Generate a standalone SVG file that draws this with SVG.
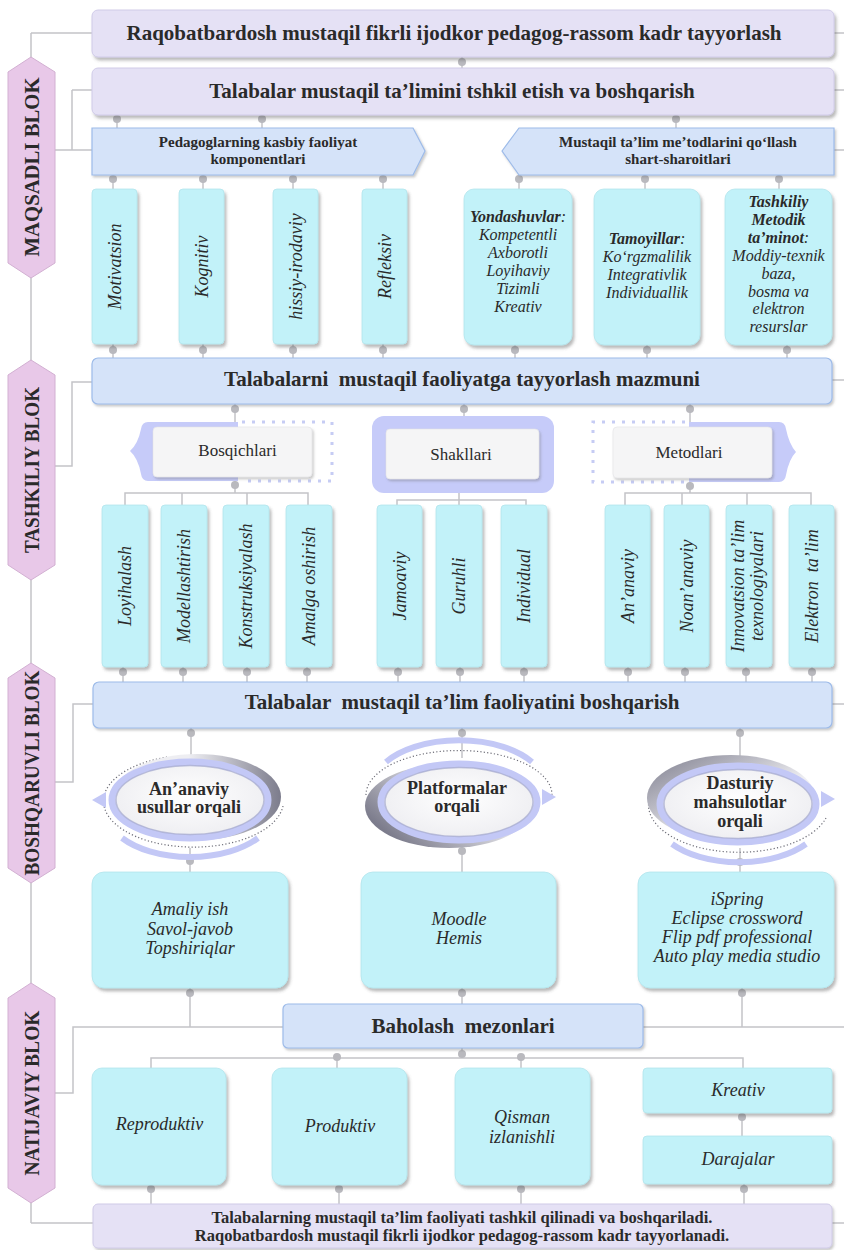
<svg xmlns="http://www.w3.org/2000/svg" width="844" height="1250" viewBox="0 0 844 1250">
<defs>
<style>
.ln{stroke:#c4c4c8;stroke-width:1.5;fill:none}
.dot{fill:#b9b9be}
.lav{fill:#e5e1f5;stroke:#d0cbe8;stroke-width:1}
.blu{fill:#d5e3f9;stroke:#9dbbe9;stroke-width:1.2}
.cy{fill:#c2f2f9;stroke:#b2e4ec;stroke-width:0.8}
.pk{fill:#e8c8e8;stroke:#d2b0d2;stroke-width:1}
.bk{fill:#c6cbf9}
.card{fill:#f5f5f6;stroke:#e2e2e6;stroke-width:0.6}
.dt{fill:none;stroke:#c6ccf4;stroke-width:3;stroke-dasharray:3 7}
.t{font-family:"Liberation Serif","Times New Roman",serif;fill:#2a2a2a}
.b{font-weight:bold}
.h{font-size:21px;font-weight:bold;text-anchor:middle}
.ar{font-size:15px;font-weight:bold;text-anchor:middle}
.v{font-size:18px;font-style:italic;text-anchor:middle}
.s{font-size:16px;font-style:italic;text-anchor:middle}
.m{font-size:18px;font-style:italic;text-anchor:middle}
.e{font-size:18px;font-weight:bold;text-anchor:middle}
.bl{font-size:22px;font-weight:bold;text-anchor:middle}
.ring{fill:url(#wh);stroke:#c3c8f6;stroke-width:7}
.inr{fill:none;stroke:#a4a8cc;stroke-width:1.5;opacity:0.7}
.dots{fill:none;stroke:#6e6e78;stroke-width:1.2;stroke-dasharray:1.2 2.2}
.band{fill:none;stroke:#c3c8f6;stroke-width:6}
</style>
<filter id="sh" x="-10%" y="-10%" width="125%" height="140%">
<feDropShadow dx="2" dy="3" stdDeviation="1.5" flood-color="#555" flood-opacity="0.4"/>
</filter>
<filter id="sh2" x="-10%" y="-10%" width="125%" height="140%">
<feDropShadow dx="1.5" dy="2" stdDeviation="1" flood-color="#666" flood-opacity="0.35"/>
</filter>
<radialGradient id="wh" cx="0.5" cy="0.45" r="0.6">
<stop offset="0" stop-color="#ffffff"/><stop offset="1" stop-color="#ececf0"/>
</radialGradient>
<linearGradient id="crR" x1="0" y1="0" x2="1" y2="0">
<stop offset="0.45" stop-color="#eeeef2"/><stop offset="1" stop-color="#7c7c8c"/>
</linearGradient>
<linearGradient id="crL" x1="1" y1="0" x2="0" y2="0.6">
<stop offset="0.4" stop-color="#eeeef2"/><stop offset="1" stop-color="#7c7c8c"/>
</linearGradient>
<linearGradient id="crTL" x1="1" y1="1" x2="0" y2="0">
<stop offset="0.4" stop-color="#eeeef2"/><stop offset="1" stop-color="#7c7c8c"/>
</linearGradient>
</defs>
<rect width="844" height="1250" fill="#ffffff"/>

<g id="connectors">
<path class="ln" d="M31 33V1223M31 33H92M31 1223H93"/>
<path class="ln" d="M55 150H92M72 90V150M72 90H92"/>
<path class="ln" d="M55 466H72V382H92"/>
<path class="ln" d="M55 782H73V704H93"/>
<path class="ln" d="M55 1093H73V1027H844"/>
<path class="ln" d="M834 33H844M834 90H844M834 150H844M832 380H844M832 704H844M832 1223H844"/>
<path class="ln" d="M462 57V68M117 115V128M262 115V128M676 115V128"/>
<path class="ln" d="M113 175V189M203 175V189M293 175V189M383 175V189M519 175V189M645 175V189M779 175V189"/>
<path class="ln" d="M113 344V358M203 344V358M293 344V358M383 344V358M515 344V358M647 344V358M787 344V358"/>
<path class="ln" d="M235 404V422M464 404V416M690 404V422"/>
<path class="ln" d="M235 480V493M125 505V493H308V505M182 493V505M247 493V505"/>
<path class="ln" d="M459 493V505M397 505V500H526V505"/>
<path class="ln" d="M690 482V493M625 505V493H811V505M682 493V505M747 493V505"/>
<path class="ln" d="M123 667V682M183 667V682M247 667V682M307 667V682M398 667V682M460 667V682M524 667V682M628 667V682M685 667V682M746 667V682M812 667V682"/>
<path class="ln" d="M191 728V755M462 728V758M740 728V756"/>
<path class="ln" d="M190 848V872M462 846V872M740 848V872"/>
<path class="ln" d="M190 988V1027M462 988V1004M742 988V1027"/>
<path class="ln" d="M462 1048V1058M151 1068V1058H743V1068M337 1058V1068M521 1058V1068"/>
<path class="ln" d="M742 1113V1136M151 1185V1204M339 1185V1204M521 1185V1204M744 1184V1204"/>
<g class="dot">
<circle cx="462" cy="62" r="4"/>
<circle cx="117" cy="119" r="4"/><circle cx="262" cy="119" r="4"/><circle cx="676" cy="119" r="4"/>
<circle cx="113" cy="179" r="4"/><circle cx="203" cy="179" r="4"/><circle cx="293" cy="179" r="4"/><circle cx="383" cy="179" r="4"/>
<circle cx="519" cy="179" r="4"/><circle cx="645" cy="179" r="4"/><circle cx="779" cy="179" r="4"/>
<circle cx="113" cy="350" r="4"/><circle cx="203" cy="350" r="4"/><circle cx="293" cy="350" r="4"/><circle cx="383" cy="350" r="4"/>
<circle cx="515" cy="350" r="4"/><circle cx="647" cy="350" r="4"/><circle cx="787" cy="350" r="4"/>
<circle cx="235" cy="409" r="4"/><circle cx="464" cy="409" r="4"/><circle cx="690" cy="409" r="4"/>
<circle cx="235" cy="485" r="4"/><circle cx="690" cy="486" r="4"/>
<circle cx="123" cy="672" r="4"/><circle cx="183" cy="672" r="4"/><circle cx="247" cy="672" r="4"/><circle cx="307" cy="672" r="4"/>
<circle cx="398" cy="672" r="4"/><circle cx="460" cy="672" r="4"/><circle cx="524" cy="672" r="4"/><circle cx="628" cy="672" r="4"/>
<circle cx="685" cy="672" r="4"/><circle cx="746" cy="672" r="4"/><circle cx="812" cy="672" r="4"/>
<circle cx="191" cy="733" r="4"/><circle cx="462" cy="733" r="4"/><circle cx="740" cy="733" r="4"/>
<circle cx="190" cy="861" r="4"/><circle cx="462" cy="851" r="4"/><circle cx="740" cy="862" r="4"/>
<circle cx="190" cy="993" r="4"/><circle cx="462" cy="993" r="4"/><circle cx="742" cy="993" r="4"/>
<circle cx="462" cy="1054" r="4"/><circle cx="337" cy="1057" r="4"/><circle cx="521" cy="1057" r="4"/>
<circle cx="742" cy="1117" r="4"/>
<circle cx="151" cy="1189" r="4"/><circle cx="339" cy="1189" r="4"/><circle cx="521" cy="1189" r="4"/><circle cx="744" cy="1189" r="4"/>
</g>
</g>

<g id="blk-maqsadli">
<polygon class="pk" points="31,57 55,72 55,263 31,278 8,263 8,72"/>
<text class="t bl" x="31" y="175" transform="rotate(-90 31 167)" textLength="179" lengthAdjust="spacingAndGlyphs">MAQSADLI BLOK</text>
</g>
<g id="blk-tashkiliy">
<polygon class="pk" points="31,360 55,375 55,565 31,580 8,565 8,375"/>
<text class="t bl" x="31" y="478" transform="rotate(-90 31 470)" textLength="166" lengthAdjust="spacingAndGlyphs">TASHKILIY BLOK</text>
</g>
<g id="blk-boshqaruvli">
<polygon class="pk" points="31,663 55,678 55,868 31,883 8,868 8,678"/>
<text class="t bl" x="31" y="781" transform="rotate(-90 31 773)" textLength="205" lengthAdjust="spacingAndGlyphs">BOSHQARUVLI BLOK</text>
</g>
<g id="blk-natijaviy">
<polygon class="pk" points="31,983 55,998 55,1188 31,1203 8,1188 8,998"/>
<text class="t bl" x="31" y="1101" transform="rotate(-90 31 1093)" textLength="165" lengthAdjust="spacingAndGlyphs">NATIJAVIY BLOK</text>
</g>

<g id="n-goal">
<rect class="lav" x="92" y="10" width="742" height="47" rx="6" filter="url(#sh)"/>
<text class="t h" x="454" y="40">Raqobatbardosh mustaqil fikrli ijodkor pedagog-rassom kadr tayyorlash</text>
</g>
<g id="n-org">
<rect class="lav" x="92" y="68" width="742" height="47" rx="6" filter="url(#sh)"/>
<text class="t h" x="452" y="98">Talabalar mustaqil ta’limini tshkil etish va boshqarish</text>
</g>
<g id="n-ped">
<path class="blu" d="M92 128H413L425 151L413 175H92Z" filter="url(#sh2)"/>
<text class="t ar" x="258" y="147">Pedagoglarning kasbiy faoliyat</text>
<text class="t ar" x="258" y="164">komponentlari</text>
</g>
<g id="n-cond">
<path class="blu" d="M502 151L519 128H834V175H519Z" filter="url(#sh2)"/>
<text class="t ar" x="678" y="147">Mustaqil ta’lim me’todlarini qo‘llash</text>
<text class="t ar" x="678" y="164">shart-sharoitlari</text>
</g>

<g id="n-motiv"><rect class="cy" x="92" y="189" width="45" height="155" rx="4" filter="url(#sh)"/>
<text class="t v" x="114.5" y="273" transform="rotate(-90 114.5 266.5)">Motivatsion</text></g>
<g id="n-kogn"><rect class="cy" x="179" y="189" width="45" height="155" rx="4" filter="url(#sh)"/>
<text class="t v" x="201.5" y="273" transform="rotate(-90 201.5 266.5)">Kognitiv</text></g>
<g id="n-hiss"><rect class="cy" x="273" y="189" width="45" height="155" rx="4" filter="url(#sh)"/>
<text class="t v" x="295.5" y="273" transform="rotate(-90 295.5 266.5)">hissiy-irodaviy</text></g>
<g id="n-refl"><rect class="cy" x="362" y="189" width="45" height="155" rx="4" filter="url(#sh)"/>
<text class="t v" x="384.5" y="273" transform="rotate(-90 384.5 266.5)">Refleksiv</text></g>

<g id="n-yond"><rect class="cy" x="464" y="189" width="108" height="156" rx="10" filter="url(#sh)"/>
<text class="t s" x="518" y="222"><tspan font-weight="bold">Yondashuvlar</tspan>:</text>
<text class="t s" x="518" y="240">Kompetentli</text>
<text class="t s" x="518" y="258">Axborotli</text>
<text class="t s" x="518" y="276">Loyihaviy</text>
<text class="t s" x="518" y="294">Tizimli</text>
<text class="t s" x="518" y="312">Kreativ</text></g>
<g id="n-tamo"><rect class="cy" x="594" y="189" width="106" height="156" rx="10" filter="url(#sh)"/>
<text class="t s" x="647" y="244"><tspan font-weight="bold">Tamoyillar</tspan>:</text>
<text class="t s" x="647" y="262">Ko‘rgzmalilik</text>
<text class="t s" x="647" y="280">Integrativlik</text>
<text class="t s" x="647" y="298">Individuallik</text></g>
<g id="n-tash"><rect class="cy" x="725" y="189" width="107" height="156" rx="10" filter="url(#sh)"/>
<text class="t s b" x="778.5" y="207">Tashkiliy</text>
<text class="t s b" x="778.5" y="225">Metodik</text>
<text class="t s" x="778.5" y="243"><tspan font-weight="bold">ta’minot</tspan>:</text>
<text class="t s" x="778.5" y="261">Moddiy-texnik</text>
<text class="t s" x="778.5" y="279">baza,</text>
<text class="t s" x="778.5" y="297">bosma va</text>
<text class="t s" x="778.5" y="314">elektron</text>
<text class="t s" x="778.5" y="332">resurslar</text></g>

<g id="n-mazmun">
<rect class="blu" x="92" y="358" width="740" height="46" rx="6" filter="url(#sh2)"/>
<text class="t h" x="462" y="386" xml:space="preserve">Talabalarni  mustaqil faoliyatga tayyorlash mazmuni</text>
</g>

<g id="n-bosq">
<path class="bk" d="M148 422H238V481H148Q142 481 141 474Q138 458 130 451Q138 444 141 429Q142 422 148 422Z"/>
<path class="dt" d="M242 422H332V481H242"/>
<rect class="card" x="153" y="427" width="159" height="50" rx="4" filter="url(#sh2)"/>
<text class="t" x="237.5" y="456" font-size="17" text-anchor="middle">Bosqichlari</text>
</g>
<g id="n-shakl">
<rect class="bk" x="372" y="416" width="182" height="77" rx="12"/>
<rect class="card" x="386" y="429" width="153" height="50" rx="4" filter="url(#sh2)"/>
<text class="t" x="461" y="460" font-size="17" text-anchor="middle">Shakllari</text>
</g>
<g id="n-metod">
<path class="bk" d="M689 422H779Q785 422 786 429Q789 444 796 452Q789 459 786 475Q785 482 779 482H689Z"/>
<path class="dt" d="M685 422H593V482H685"/>
<rect class="card" x="613" y="427" width="159" height="51" rx="4" filter="url(#sh2)"/>
<text class="t" x="689" y="458" font-size="17" text-anchor="middle">Metodlari</text>
</g>

<g id="n-loyi"><rect class="cy" x="102" y="505" width="46" height="162" rx="4" filter="url(#sh)"/>
<text class="t v" x="125" y="592" transform="rotate(-90 125 586)">Loyihalash</text></g>
<g id="n-mode"><rect class="cy" x="161" y="505" width="46" height="162" rx="4" filter="url(#sh)"/>
<text class="t v" x="184" y="592" transform="rotate(-90 184 586)">Modellashtirish</text></g>
<g id="n-kons"><rect class="cy" x="223" y="505" width="46" height="162" rx="4" filter="url(#sh)"/>
<text class="t v" x="246" y="592" transform="rotate(-90 246 586)">Konstruksiyalash</text></g>
<g id="n-amal"><rect class="cy" x="286" y="505" width="46" height="162" rx="4" filter="url(#sh)"/>
<text class="t v" x="309" y="592" transform="rotate(-90 309 586)">Amalga oshirish</text></g>
<g id="n-jamo"><rect class="cy" x="377" y="505" width="45" height="162" rx="4" filter="url(#sh)"/>
<text class="t v" x="399.5" y="592" transform="rotate(-90 399.5 586)">Jamoaviy</text></g>
<g id="n-guru"><rect class="cy" x="436" y="505" width="46" height="162" rx="4" filter="url(#sh)"/>
<text class="t v" x="459" y="592" transform="rotate(-90 459 586)">Guruhli</text></g>
<g id="n-indi"><rect class="cy" x="501" y="505" width="46" height="162" rx="4" filter="url(#sh)"/>
<text class="t v" x="524" y="592" transform="rotate(-90 524 586)">Individual</text></g>
<g id="n-anan"><rect class="cy" x="605" y="505" width="45" height="162" rx="4" filter="url(#sh)"/>
<text class="t v" x="627.5" y="592" transform="rotate(-90 627.5 586)">An’anaviy</text></g>
<g id="n-noan"><rect class="cy" x="664" y="505" width="45" height="162" rx="4" filter="url(#sh)"/>
<text class="t v" x="686.5" y="592" transform="rotate(-90 686.5 586)">Noan’anaviy</text></g>
<g id="n-inno"><rect class="cy" x="726" y="505" width="46" height="162" rx="4" filter="url(#sh)"/>
<text class="t v" x="749" y="581" transform="rotate(-90 749 586)">Innovatsion ta’lim</text>
<text class="t v" x="749" y="600" transform="rotate(-90 749 586)">texnologiyalari</text></g>
<g id="n-elek"><rect class="cy" x="789" y="505" width="45" height="162" rx="4" filter="url(#sh)"/>
<text class="t v" x="811.5" y="592" transform="rotate(-90 811.5 586)" xml:space="preserve">Elektron  ta’lim</text></g>

<g id="n-boshq">
<rect class="blu" x="93" y="682" width="739" height="46" rx="6" filter="url(#sh2)"/>
<text class="t h" x="462" y="709" xml:space="preserve">Talabalar  mustaqil ta’lim faoliyatini boshqarish</text>
</g>

<g id="n-usul">
<path class="dots" d="M283 806A90 46 0 1 1 168 757"/>
<path class="band" d="M122 838A84 46 0 0 0 258 838"/>
<polygon points="92,800 106,792 106,808" fill="#c3c8f6"/>
<ellipse cx="197" cy="797" rx="84" ry="43" fill="url(#crR)"/>
<ellipse class="ring" cx="190" cy="800" rx="78" ry="38"/>
<ellipse class="inr" cx="190" cy="800" rx="74" ry="34.5"/>
<text class="t e" x="189" y="795">An’anaviy</text>
<text class="t e" x="189" y="813">usullar orqali</text>
</g>
<g id="n-platf">
<path class="band" d="M386 762A86 46 0 0 1 532 762"/>
<path class="dots" d="M366 795A92 44 0 0 1 552 795"/>
<polygon points="556,797 542,789 542,805" fill="#c3c8f6"/>
<ellipse cx="449" cy="806" rx="84" ry="42" fill="url(#crL)"/>
<ellipse class="ring" cx="459" cy="802" rx="78" ry="38"/>
<ellipse class="inr" cx="459" cy="802" rx="74" ry="34.5"/>
<text class="t e" x="457" y="794">Platformalar</text>
<text class="t e" x="457" y="812">orqali</text>
</g>
<g id="n-dast">
<path class="dots" d="M826 818A90 47 0 0 1 652 792"/>
<path class="band" d="M672 844A84 46 0 0 0 806 844"/>
<polygon points="835,799 821,791 821,807" fill="#c3c8f6"/>
<ellipse cx="731" cy="798" rx="84" ry="43" fill="url(#crTL)"/>
<ellipse class="ring" cx="738" cy="804" rx="78" ry="38"/>
<ellipse class="inr" cx="738" cy="804" rx="74" ry="34.5"/>
<text class="t e" x="740" y="789">Dasturiy</text>
<text class="t e" x="740" y="808">mahsulotlar</text>
<text class="t e" x="740" y="827">orqali</text>
</g>

<g id="n-amaliy"><rect class="cy" x="92" y="872" width="196" height="116" rx="12" filter="url(#sh)"/>
<text class="t m" x="190" y="915">Amaliy ish</text>
<text class="t m" x="190" y="935">Savol-javob</text>
<text class="t m" x="190" y="954">Topshiriqlar</text></g>
<g id="n-moodle"><rect class="cy" x="361" y="872" width="195" height="116" rx="12" filter="url(#sh)"/>
<text class="t m" x="459" y="925">Moodle</text>
<text class="t m" x="459" y="944">Hemis</text></g>
<g id="n-ispring"><rect class="cy" x="638" y="872" width="196" height="116" rx="12" filter="url(#sh)"/>
<text class="t m" x="737" y="905">iSpring</text>
<text class="t m" x="737" y="924">Eclipse crossword</text>
<text class="t m" x="737" y="943">Flip pdf professional</text>
<text class="t m" x="737" y="962">Auto play media studio</text></g>

<g id="n-bahol">
<rect class="blu" x="283" y="1004" width="360" height="44" rx="5" filter="url(#sh2)"/>
<text class="t h" x="463" y="1033" xml:space="preserve">Baholash  mezonlari</text>
</g>

<g id="n-repro"><rect class="cy" x="92" y="1068" width="134" height="117" rx="10" filter="url(#sh)"/>
<text class="t m" x="159.5" y="1130">Reproduktiv</text></g>
<g id="n-prod"><rect class="cy" x="272" y="1068" width="135" height="117" rx="10" filter="url(#sh)"/>
<text class="t m" x="340" y="1132">Produktiv</text></g>
<g id="n-qism"><rect class="cy" x="455" y="1068" width="135" height="117" rx="10" filter="url(#sh)"/>
<text class="t m" x="522" y="1123">Qisman</text>
<text class="t m" x="522" y="1143">izlanishli</text></g>
<g id="n-krea"><rect class="cy" x="643" y="1068" width="189" height="45" rx="4" filter="url(#sh)"/>
<text class="t m" x="738" y="1096">Kreativ</text></g>
<g id="n-dara"><rect class="cy" x="643" y="1136" width="189" height="48" rx="4" filter="url(#sh)"/>
<text class="t m" x="738" y="1165">Darajalar</text></g>

<g id="n-result">
<rect class="lav" x="93" y="1204" width="739" height="44" rx="5" filter="url(#sh2)"/>
<text class="t" x="462" y="1223" font-size="16.5" font-weight="bold" text-anchor="middle">Talabalarning mustaqil ta’lim faoliyati tashkil qilinadi va boshqariladi.</text>
<text class="t" x="462" y="1241" font-size="16.5" font-weight="bold" text-anchor="middle">Raqobatbardosh mustaqil fikrli ijodkor pedagog-rassom kadr tayyorlanadi.</text>
</g>
</svg>
